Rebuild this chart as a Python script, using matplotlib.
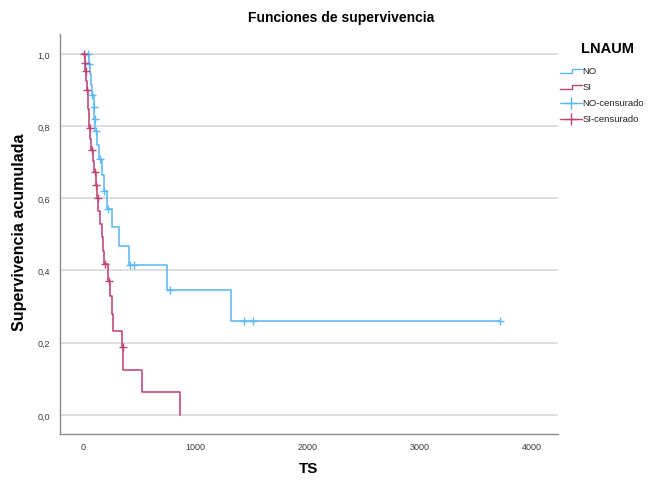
import matplotlib
matplotlib.use('Agg')
import matplotlib.pyplot as plt
from matplotlib.lines import Line2D
import numpy as np

plt.rcParams['font.family'] = ['Liberation Sans', 'DejaVu Sans']

# ---- data ----
no_event_times = [52, 60, 70, 80, 95, 101, 110, 125, 140, 165, 185, 213, 257, 320, 412, 745, 1318]
no_event_surv = [0.972, 0.943, 0.914, 0.885, 0.852, 0.820, 0.785, 0.747, 0.709, 0.664,
                 0.619, 0.571, 0.520, 0.469, 0.416, 0.347, 0.261]
no_censor_times = [47, 56, 83, 98, 104, 116, 151, 190, 225, 419, 454, 775, 1436, 1517, 3713]
no_end_time = 3713

si_event_times = [15, 21, 30, 35, 42, 47, 52, 56, 66, 74, 90, 100, 112, 126, 133, 151, 166,
                  178, 190, 225, 240, 255, 265, 350, 358, 522, 864]
si_event_surv = [0.975, 0.952, 0.926, 0.900, 0.873, 0.847, 0.820, 0.794, 0.765, 0.735, 0.704,
                 0.673, 0.638, 0.602, 0.566, 0.529, 0.492, 0.455, 0.418, 0.372, 0.330, 0.280,
                 0.233, 0.187, 0.125, 0.0625, 0.0]
si_censor_times = [12, 18, 24, 38, 60, 80, 104, 118, 131, 196, 231, 354]
si_end_time = 864

x_ticks = [0, 1000, 2000, 3000, 4000]
y_ticks = [0.0, 0.2, 0.4, 0.6, 0.8, 1.0]
legend_labels = ['NO', 'SI', 'NO-censurado', 'SI-censurado']

col_no = '#5db9f4'
col_si = '#bd4577'

W, H = 652, 481
fig = plt.figure(figsize=(W / 100, H / 100), dpi=100)
ax = fig.add_axes([60 / W, 1 - 435 / H, (558 - 60) / W, (435 - 35) / H])


def surv_at(times, surv, t):
    idx = np.searchsorted(np.asarray(times), t, side='right')
    return 1.0 if idx == 0 else surv[idx - 1]


def step_xy(times, surv, end):
    x = [0] + list(times)
    y = [1.0] + list(surv)
    if end > x[-1]:
        x.append(end)
        y.append(y[-1])
    return x, y


xn, yn = step_xy(no_event_times, no_event_surv, no_end_time)
xs, ys = step_xy(si_event_times, si_event_surv, si_end_time)
ax.plot(xn, yn, drawstyle='steps-post', color=col_no, lw=1.15, zorder=3)
ax.plot(xs, ys, drawstyle='steps-post', color=col_si, lw=1.15, zorder=4)

cn_y = [surv_at(no_event_times, no_event_surv, t) for t in no_censor_times]
cs_y = [surv_at(si_event_times, si_event_surv, t) for t in si_censor_times]
ax.plot(no_censor_times, cn_y, ls='none', marker='+', ms=6, mew=1.0, color=col_no, zorder=5)
ax.plot(si_censor_times, cs_y, ls='none', marker='+', ms=6, mew=1.0, color=col_si, zorder=6)

ax.set_xlim(-205, 4230)
ax.set_ylim(-0.053, 1.055)
ax.set_xticks(x_ticks)
ax.set_xticklabels([str(v) for v in x_ticks])
ax.set_yticks(y_ticks)
ax.set_yticklabels([f"{v:.1f}".replace('.', ',') for v in y_ticks])
ax.tick_params(axis='both', length=0, labelsize=6.5, colors='#3a3a3a')
ax.tick_params(axis='y', pad=7)
ax.tick_params(axis='x', pad=6)
ax.yaxis.grid(True, color='#dcdcdc', lw=1.3)
ax.set_axisbelow(True)
for s in ['top', 'right']:
    ax.spines[s].set_visible(False)
for s in ['left', 'bottom']:
    ax.spines[s].set_color('#8c8c8c')
    ax.spines[s].set_linewidth(1.0)

fig.text(341 / W, 1 - 18 / H, 'Funciones de supervivencia', ha='center', va='center',
         fontsize=10, fontweight='bold')
fig.text(309 / W, 1 - 469 / H, 'TS', ha='center', va='center', fontsize=11, fontweight='bold')
fig.text(20 / W, 1 - 232 / H, 'Supervivencia acumulada', ha='center', va='center',
         rotation=90, fontsize=11.5, fontweight='bold')

# ---- legend (manual) ----
def fx(px):
    return px / W


def fy(py):
    return 1 - py / H


fig.text(fx(607), fy(49), 'LNAUM', ha='center', va='center', fontsize=10.5, fontweight='bold')
rows = [72, 88, 104, 120]
for i, (lab, py) in enumerate(zip(legend_labels, rows)):
    c = col_no if i % 2 == 0 else col_si
    if i < 2:
        fig.add_artist(Line2D([fx(560), fx(571.5), fx(571.5), fx(582)],
                              [fy(py + 2), fy(py + 2), fy(py - 2), fy(py - 2)],
                              color=c, lw=1.0))
    else:
        fig.add_artist(Line2D([fx(560), fx(582)], [fy(py), fy(py)], color=c, lw=1.0))
        fig.add_artist(Line2D([fx(571)], [fy(py)], marker='+', ms=8, mew=1.0, color=c, ls='none'))
    fig.text(fx(582.5), fy(py), lab, ha='left', va='center', fontsize=6.8, color='#222222')

fig.savefig('out.png', dpi=100)
